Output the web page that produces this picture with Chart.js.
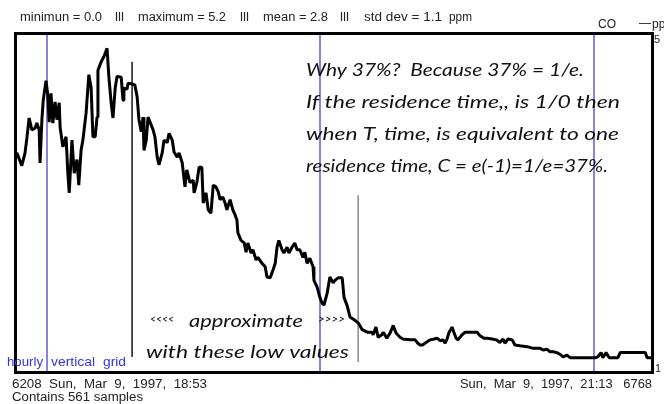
<!DOCTYPE html>
<html>
<head>
<meta charset="utf-8">
<script src="https://cdn.jsdelivr.net/npm/chart.js@4"></script>
<style>
  body { margin: 0; background: #fff; }
  canvas { display: block; }
</style>
</head>
<body>
<canvas id="coChart" width="664" height="404"></canvas>
<script>
// CO record, Sun Mar 9 1997, 18:53 -> 21:13 (minutes after 18:53, ppm)
const minutes = [
  0, 0.4, 1.5, 2.2, 2.6, 3.1, 3.7, 4.4, 4.8, 5.3, 5.5, 5.9, 6.2, 6.8, 7.2, 7.5, 7.9, 8.3, 8.8, 9.2,
  9.7, 9.9, 10.5, 11.2, 11.6, 11.9, 12.5, 13.0, 13.6, 14.0, 14.5, 14.9, 15.6, 16.2, 16.7, 17.1, 17.6, 18.0, 18.2, 18.9,
  19.5, 20.2, 20.6, 21.1, 21.5, 22.0, 22.4, 23.3, 23.7, 23.9, 24.6, 24.8, 25.7, 26.3, 26.8, 27.2, 27.7, 28.1, 28.3, 28.8,
  29.2, 30.3, 30.7, 31.2, 31.6, 32.3, 32.7, 33.4, 33.8, 34.5, 34.9, 35.6, 36.0, 36.7, 37.3, 37.7, 38.4, 39.1, 39.3, 39.9,
  40.4, 41.0, 41.3, 41.9, 42.4, 43.0, 43.5, 44.1, 44.6, 45.0, 45.6, 46.1, 46.5, 47.2, 47.8, 48.3, 48.7, 48.9, 49.6, 50.3,
  50.7, 51.1, 51.8, 52.2, 52.9, 53.3, 54.2, 54.9, 55.3, 56.0, 56.6, 57.1, 57.5, 57.9, 58.6, 59.0, 59.7, 60.1, 60.8, 61.4,
  61.9, 62.5, 63.2, 63.6, 64.1, 64.7, 65.4, 65.6, 66.3, 66.9, 67.4, 67.8, 68.5, 69.1, 69.8, 70.2, 70.9, 71.8, 72.2, 72.9,
  73.5, 74.6, 75.3, 76.2, 77.3, 78.3, 78.6, 79.2, 79.7, 80.5, 80.8, 81.6, 82.3, 83.0, 83.6, 84.5, 85.1, 86.7, 87.8, 88.4,
  88.9, 89.5, 90.2, 91.1, 92.0, 92.6, 93.3, 93.9, 94.4, 94.8, 95.2, 95.9, 96.3, 96.8, 97.2, 98.1, 98.8, 99.9, 101.4, 102.0,
  102.9, 103.6, 104.7, 105.6, 106.4, 107.1, 107.5, 108.2, 109.1, 109.7, 110.8, 112.4, 113.7, 115.2, 115.9, 116.7, 117.4, 118.1, 118.9, 119.6,
  120.3, 121.1, 121.8, 126.2, 127.3, 127.9, 128.6, 129.0, 129.7, 130.4, 132.3, 132.8, 138.3, 138.7, 140
];
const coPpm = [
  3.51, 3.59, 3.44, 3.59, 3.76, 4.00, 3.86, 3.88, 3.94, 3.86, 3.47, 3.98, 4.21, 4.44, 4.27, 3.95, 4.29, 3.94, 4.19, 3.98,
  4.18, 3.89, 3.66, 3.78, 3.35, 3.12, 3.74, 3.35, 3.51, 3.21, 3.62, 3.74, 4.06, 4.51, 4.36, 3.78, 3.78, 4.01, 4.56, 4.66,
  4.72, 4.82, 4.48, 4.18, 4.00, 4.36, 4.49, 4.48, 4.21, 4.35, 4.34, 4.41, 4.40, 4.39, 4.25, 3.98, 3.84, 4.01, 3.62, 3.74,
  4.01, 3.86, 3.78, 3.54, 3.45, 3.59, 3.74, 3.71, 3.82, 3.74, 3.60, 3.54, 3.59, 3.47, 3.19, 3.39, 3.24, 3.27, 3.12, 3.24,
  3.42, 3.42, 3.00, 3.12, 2.92, 2.88, 3.21, 3.19, 3.13, 3.04, 3.07, 3.00, 2.92, 3.04, 2.92, 2.86, 2.80, 2.65, 2.56, 2.53,
  2.42, 2.53, 2.41, 2.45, 2.33, 2.36, 2.29, 2.25, 2.13, 2.12, 2.21, 2.29, 2.48, 2.56, 2.45, 2.41, 2.48, 2.41, 2.48, 2.53,
  2.45, 2.45, 2.36, 2.42, 2.29, 2.35, 2.25, 2.09, 2.01, 1.89, 1.82, 1.80, 1.94, 2.13, 2.06, 2.09, 2.12, 2.12, 1.89, 1.79,
  1.66, 1.62, 1.59, 1.51, 1.48, 1.48, 1.45, 1.54, 1.42, 1.45, 1.48, 1.41, 1.47, 1.56, 1.47, 1.42, 1.40, 1.39, 1.39, 1.35,
  1.33, 1.33, 1.36, 1.39, 1.40, 1.41, 1.38, 1.39, 1.35, 1.40, 1.47, 1.54, 1.48, 1.41, 1.39, 1.45, 1.48, 1.48, 1.48, 1.44,
  1.41, 1.41, 1.40, 1.39, 1.36, 1.40, 1.35, 1.40, 1.39, 1.33, 1.32, 1.31, 1.29, 1.29, 1.27, 1.28, 1.25, 1.25, 1.24, 1.22,
  1.19, 1.21, 1.18, 1.18, 1.18, 1.19, 1.24, 1.18, 1.24, 1.18, 1.18, 1.24, 1.24, 1.18, 1.18
];
const hourTicks = [7, 67, 127];          // 19:00, 20:00, 21:00
const yTicks = [1, 5];
const markA = { x: 25.7, from: 4.66, to: 1.19 };   // thin marker lines
const markB = { x: 75.3, from: 3.09, to: 1.13 };

const note = [
  'Why 37%?  Because 37% = 1/e.',
  'If the residence time,, is 1/0 then',
  'when T, time, is equivalent to one',
  'residence time, C = e(-1)=1/e=37%.'
];

const SANS = '"Liberation Sans", Arial, sans-serif';
const HAND = 'italic 18px Lato, "Open Sans", sans-serif';

function label(ctx, str, x, y, font, color, width) {
  ctx.save();
  ctx.font = font;
  ctx.fillStyle = color;
  ctx.textBaseline = 'alphabetic';
  if (width) {
    const w = ctx.measureText(str).width;
    ctx.translate(x, y);
    ctx.scale(width / w, 1);
    ctx.fillText(str, 0, 0);
  } else {
    ctx.fillText(str, x, y);
  }
  ctx.restore();
}

const hourlyGrid = {
  id: 'hourlyGrid',
  beforeDatasetsDraw(chart) {
    const { ctx, chartArea: a, scales: { x } } = chart;
    ctx.save();
    ctx.strokeStyle = '#8484e4';
    ctx.lineWidth = 2;
    hourTicks.forEach(t => {
      const px = Math.round(x.getPixelForValue(t));
      ctx.beginPath();
      ctx.moveTo(px, a.top);
      ctx.lineTo(px, a.bottom);
      ctx.stroke();
    });
    ctx.restore();
  }
};

const frameAndText = {
  id: 'frameAndText',
  afterDraw(chart) {
    const { ctx, chartArea: a, scales: { y } } = chart;
    ctx.save();
    ctx.strokeStyle = '#000';
    ctx.lineWidth = 3;
    ctx.strokeRect(a.left + 0.5, a.top + 0.5, a.right - a.left - 1, a.bottom - a.top - 1);
    ctx.restore();

    const f12 = '12px ' + SANS;
    // header stats
    label(ctx, 'minimun = 0.0', 20, 21, f12, '#222', 82);
    label(ctx, 'lll', 115, 21, f12, '#222', 9);
    label(ctx, 'maximum = 5.2', 138, 21, f12, '#222', 88);
    label(ctx, 'lll', 240, 21, f12, '#222', 9);
    label(ctx, 'mean = 2.8', 263, 21, f12, '#222', 65);
    label(ctx, 'lll', 340, 21, f12, '#222', 9);
    label(ctx, 'std dev = 1.1', 364, 21, f12, '#222', 78);
    label(ctx, 'ppm', 449, 21, f12, '#222', 23);

    // legend top right
    label(ctx, 'CO', 598, 28, f12, '#222');
    label(ctx, '—', 639, 27, f12, '#222');
    label(ctx, 'ppm', 652, 28, f12, '#222');

    // right axis labels
    label(ctx, String(yTicks[1]), a.right + 1, y.getPixelForValue(yTicks[1]) + 10, '11px ' + SANS, '#222');
    label(ctx, String(yTicks[0]), a.right + 2, y.getPixelForValue(yTicks[0]) - 1, '11px ' + SANS, '#222');

    // blue caption
    label(ctx, 'hourly', 7, 366, f12, '#3434e0', 36);
    label(ctx, 'vertical', 51, 366, f12, '#3434e0', 44);
    label(ctx, 'grid', 103, 366, f12, '#3434e0', 23);

    // footer
    label(ctx, '6208  Sun,  Mar  9,  1997,  18:53', 12, 388, f12, '#222', 195);
    label(ctx, 'Contains 561 samples', 12, 401, f12, '#222', 131);
    label(ctx, 'Sun,  Mar  9,  1997,  21:13   6768', 460, 388, f12, '#222', 192);

    // note
    const widths = [278, 314, 313, 302];
    note.forEach((s, i) => label(ctx, s, 306, 76 + i * 32, HAND, '#111', widths[i]));
    label(ctx, '<<<<', 150, 323, 'italic 11px Lato, sans-serif', '#111', 24);
    label(ctx, 'approximate', 189, 327, HAND, '#111', 114);
    label(ctx, '>>>>', 318, 323, 'italic 11px Lato, sans-serif', '#111', 27);
    label(ctx, 'with these low values', 146, 358, HAND, '#111', 203);
  }
};

new Chart(document.getElementById('coChart'), {
  type: 'line',
  data: {
    datasets: [
      {
        data: minutes.map((m, i) => ({ x: m, y: coPpm[i] })),
        borderColor: '#000',
        borderWidth: 3,
        borderJoinStyle: 'bevel',
        pointRadius: 0,
        tension: 0
      },
      {
        data: [{ x: markA.x, y: markA.from }, { x: markA.x, y: markA.to }],
        borderColor: '#333',
        borderWidth: 1,
        pointRadius: 0
      },
      {
        data: [{ x: markB.x, y: markB.from }, { x: markB.x, y: markB.to }],
        borderColor: '#888',
        borderWidth: 1.5,
        pointRadius: 0
      }
    ]
  },
  options: {
    responsive: false,
    animation: false,
    events: [],
    layout: { padding: { left: 15, right: 11, top: 33, bottom: 31 } },
    scales: {
      x: { type: 'linear', min: 0, max: 140, display: false },
      y: { min: 1, max: 5, display: false }
    },
    plugins: { legend: { display: false }, tooltip: { enabled: false } }
  },
  plugins: [hourlyGrid, frameAndText]
});
</script>
</body>
</html>
